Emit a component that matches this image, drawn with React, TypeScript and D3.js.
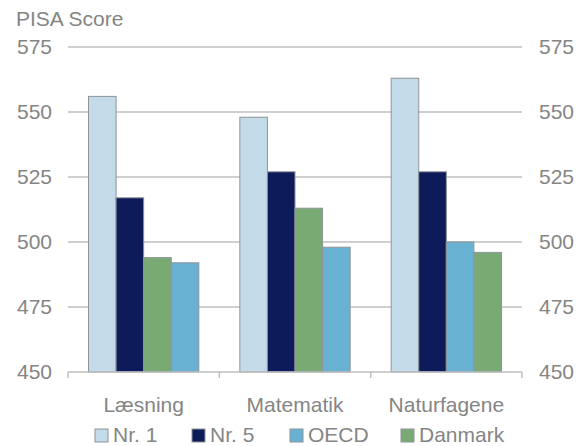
import React from "react";
import * as d3 from "d3";

const categories = ["Læsning", "Matematik", "Naturfagene"];
const seriesNames = ["Nr. 1", "Nr. 5", "OECD", "Danmark"];
const seriesColors = ["#C3DAE8", "#0D1B5A", "#68B1D3", "#7AAA74"];
const nr1 = [556, 548, 563];
const nr5 = [517, 527, 527];
const oecd = [492, 498, 500];
const danmark = [494, 513, 496];
const yTicks = [450, 475, 500, 525, 550, 575];

const W = 583;
const H = 446;
const M = { left: 68, right: 522, top: 47, bottom: 372 };
const textColor = "#858585";
const gridColor = "#BFBFBF";
const font = "'Liberation Sans', Arial, sans-serif";
const fs = 21;

export default function App() {
  const values = [nr1, nr5, oecd, danmark];
  const x = d3.scaleBand<string>().domain(categories).range([M.left, M.right]).paddingInner(0).paddingOuter(0);
  const y = d3.scaleLinear().domain([450, 575]).range([M.bottom, M.top]);
  const groupPad = 20.5;
  const inner = d3
    .scaleBand<number>()
    .domain([0, 1, 2, 3])
    .range([groupPad, x.bandwidth() - groupPad])
    .padding(0);

  const legendX = [95, 192, 290, 401];

  return (
    <svg
      width={W}
      height={H}
      style={{ position: "fixed", left: 0, top: 0, background: "#fff" }}
      fontFamily={font}
    >
      <text x={16} y={26} fontSize={fs} fill={textColor}>
        PISA Score
      </text>
      {yTicks.map((t) => (
        <g key={t}>
          {t !== 450 && (
            <line x1={M.left} x2={M.right} y1={y(t)} y2={y(t)} stroke={gridColor} strokeWidth={1.5} />
          )}
          <text x={52} y={y(t)} dy="0.35em" textAnchor="end" fontSize={fs} fill={textColor}>
            {t}
          </text>
          <text x={539} y={y(t)} dy="0.35em" textAnchor="start" fontSize={fs} fill={textColor}>
            {t}
          </text>
        </g>
      ))}
      {categories.map((c, ci) => {
        const order = d3.range(4).sort((a, b) => values[b][ci] - values[a][ci]);
        return (
          <g key={c} transform={`translate(${x(c)},0)`}>
            {order.map((si, pos) => (
              <rect
                key={si}
                x={inner(pos)}
                y={y(values[si][ci])}
                width={inner.bandwidth()}
                height={y(450) - y(values[si][ci])}
                fill={seriesColors[si]}
                stroke="#8E9499"
                strokeWidth={1}
              />
            ))}
          </g>
        );
      })}
      <line x1={M.left} x2={M.right} y1={M.bottom} y2={M.bottom} stroke={gridColor} strokeWidth={1.5} />
      {[...categories.map((c) => x(c) as number), M.right].map((tx, i) => (
        <line key={i} x1={tx} x2={tx} y1={M.bottom} y2={M.bottom + 6} stroke={gridColor} strokeWidth={1.5} />
      ))}
      {categories.map((c) => (
        <text
          key={c}
          x={(x(c) as number) + x.bandwidth() / 2}
          y={412}
          textAnchor="middle"
          fontSize={fs}
          fill={textColor}
        >
          {c}
        </text>
      ))}
      {seriesNames.map((s, i) => (
        <g key={s}>
          <rect x={legendX[i]} y={429} width={13} height={13} fill={seriesColors[i]} stroke="#8E9499" strokeWidth={1} />
          <text x={legendX[i] + 18} y={442} fontSize={fs} fill={textColor}>
            {s}
          </text>
        </g>
      ))}
    </svg>
  );
}
